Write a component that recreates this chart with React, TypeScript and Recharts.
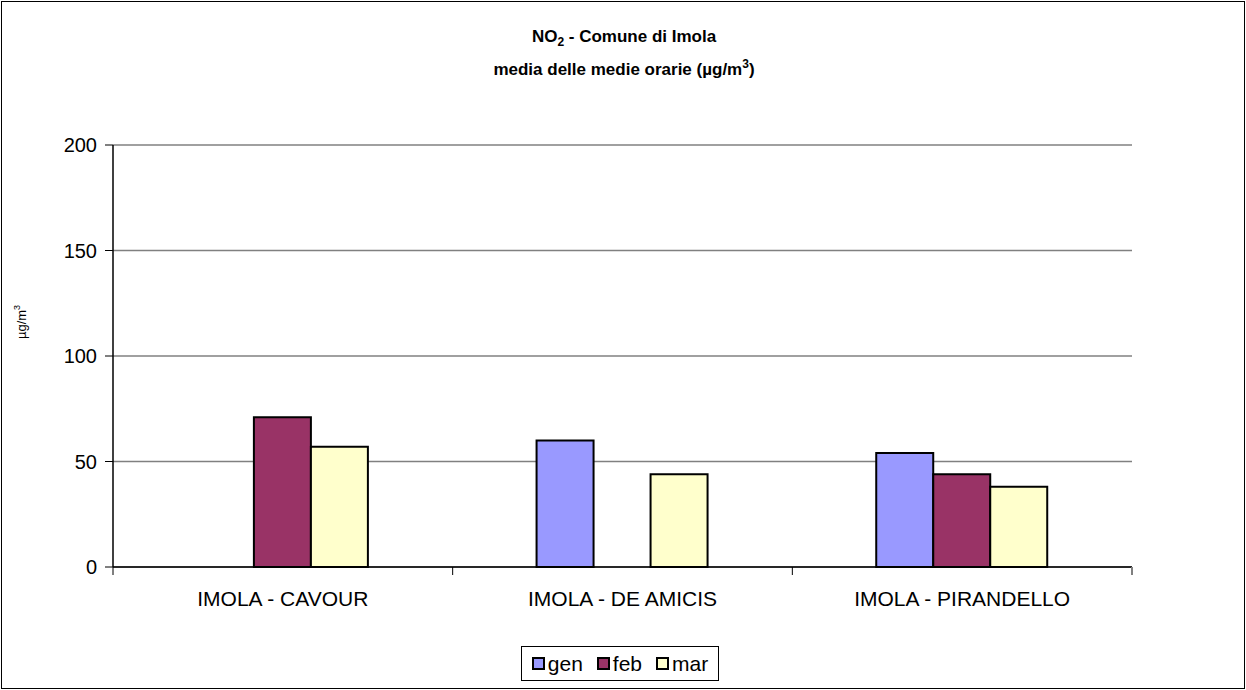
import React from 'react';
import { BarChart, Bar, XAxis, YAxis, CartesianGrid, Legend } from 'recharts';

const categories = ['IMOLA - CAVOUR', 'IMOLA - DE AMICIS', 'IMOLA - PIRANDELLO'];
const genValues: (number | null)[] = [null, 60, 54];
const febValues: (number | null)[] = [71, null, 44];
const marValues: (number | null)[] = [57, 44, 38];
const yTicks = [0, 50, 100, 150, 200];
const seriesNames = ['gen', 'feb', 'mar'];
const seriesColors = ['#9999FF', '#993366', '#FFFFCC'];

const data = categories.map((name, i) => ({
  name,
  gen: genValues[i],
  feb: febValues[i],
  mar: marValues[i],
}));

const FONT = "'Liberation Sans', Arial, Helvetica, sans-serif";
const CHART_W = 1246;
const CHART_H = 690;
const MARGIN = { top: 145, right: 114, bottom: 83, left: 0 };
const Y_AXIS_W = 113;
const PLOT_W = CHART_W - MARGIN.right - MARGIN.left - Y_AXIS_W;

const XTick = (props: any) => {
  const { x, y, payload, index, visibleTicksCount } = props;
  const count = visibleTicksCount || categories.length;
  const w = typeof props.width === 'number' && props.width > 100 ? props.width : PLOT_W;
  const half = w / count / 2;
  return (
    <g>
      <line x1={x - half} x2={x - half} y1={y} y2={y + 8} stroke="#000" strokeWidth={1} />
      {index === count - 1 && (
        <line x1={x + half} x2={x + half} y1={y} y2={y + 8} stroke="#808080" strokeWidth={2} />
      )}
      <text x={x} y={y + 39} textAnchor="middle" fontSize={21} fontFamily={FONT} fill="#000">
        {payload.value}
      </text>
    </g>
  );
};

const LegendBox = () => (
  <div
    style={{
      boxSizing: 'border-box',
      width: 198,
      height: 35,
      border: '1px solid #000',
      display: 'flex',
      alignItems: 'center',
      justifyContent: 'center',
      gap: 14,
      fontFamily: FONT,
      fontSize: 21,
      color: '#000',
      background: '#fff',
    }}
  >
    {seriesNames.map((n, i) => (
      <div key={n} style={{ display: 'flex', alignItems: 'center', gap: 3 }}>
        <span
          style={{
            display: 'inline-block',
            boxSizing: 'border-box',
            width: 13,
            height: 13,
            border: '2px solid #000',
            background: seriesColors[i],
          }}
        />
        <span>{n}</span>
      </div>
    ))}
  </div>
);

export default function App() {
  return (
    <div
      style={{
        position: 'absolute',
        left: 0,
        top: 0,
        width: CHART_W,
        height: CHART_H,
        background: '#fff',
        fontFamily: FONT,
      }}
    >
      <div
        style={{
          position: 'absolute',
          left: 1,
          top: 1,
          width: 1244,
          height: 688,
          boxSizing: 'border-box',
          border: '1px solid #000',
        }}
      />
      <div
        style={{
          position: 'absolute',
          left: 324,
          top: 20,
          width: 600,
          textAlign: 'center',
          fontWeight: 'bold',
          fontSize: 17,
          lineHeight: '33px',
          color: '#000',
        }}
      >
        <div>
          NO<sub style={{ fontSize: 12, lineHeight: 0 }}>2</sub> - Comune di Imola
        </div>
        <div>
          media delle medie orarie (µg/m<sup style={{ fontSize: 12, lineHeight: 0 }}>3</sup>)
        </div>
      </div>
      <div
        style={{
          position: 'absolute',
          left: 21,
          top: 322,
          transform: 'translate(-50%, -50%) rotate(-90deg)',
          fontSize: 13,
          whiteSpace: 'nowrap',
          color: '#000',
        }}
      >
        µg/m<sup style={{ fontSize: 9, lineHeight: 0 }}>3</sup>
      </div>
      <BarChart
        width={CHART_W}
        height={CHART_H}
        data={data}
        margin={MARGIN}
        barCategoryGap="24.7%"
        barGap={0}
      >
        <CartesianGrid horizontal vertical={false} stroke="#808080" strokeWidth={1.5} />
        <XAxis
          dataKey="name"
          height={40}
          interval={0}
          axisLine={{ stroke: '#000', strokeWidth: 1.5 }}
          tickLine={false}
          tickSize={0}
          tickMargin={0}
          tick={<XTick />}
        />
        <YAxis
          domain={[0, 200]}
          ticks={yTicks}
          interval={0}
          width={Y_AXIS_W}
          axisLine={{ stroke: '#000', strokeWidth: 1.5 }}
          tickLine={{ stroke: '#000' }}
          tickSize={8}
          tickMargin={8}
          tick={{ fill: '#000', fontSize: 20, fontFamily: FONT }}
        />
        <YAxis
          yAxisId="r"
          orientation="right"
          width={0}
          domain={[0, 200]}
          axisLine={{ stroke: '#808080', strokeWidth: 2 }}
          tick={false}
          tickLine={false}
        />
        <Legend
          verticalAlign="middle"
          layout="horizontal"
          wrapperStyle={{ left: 521, top: 646, width: 198, height: 35 }}
          content={() => <LegendBox />}
        />
        {seriesNames.map((n, i) => (
          <Bar
            key={n}
            dataKey={n}
            fill={seriesColors[i]}
            stroke="#000"
            strokeWidth={2}
            isAnimationActive={false}
          />
        ))}
      </BarChart>
    </div>
  );
}
